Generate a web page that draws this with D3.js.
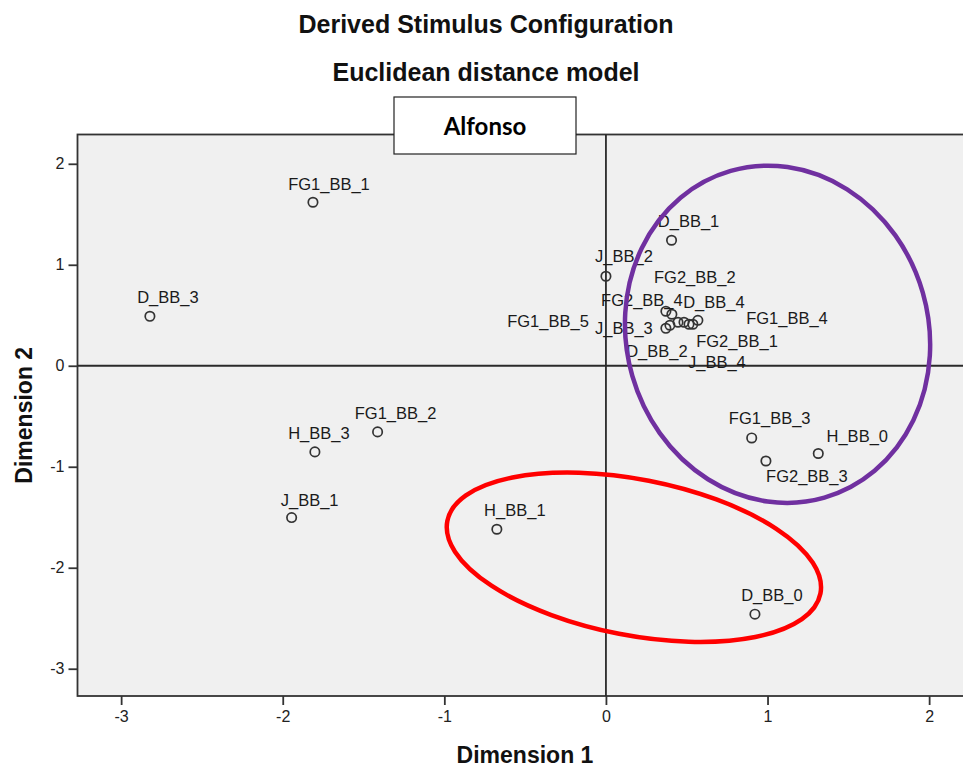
<!DOCTYPE html>
<html>
<head>
<meta charset="utf-8">
<script src="https://cdn.jsdelivr.net/npm/d3@7"></script>
<style>
  html, body { margin: 0; padding: 0; background: #ffffff; }
  svg { display: block; }
  text { font-family: "Liberation Sans", Arial, sans-serif; }
</style>
</head>
<body>
<svg id="chart" width="963" height="767"></svg>
<script>
// Stimulus coordinates in the derived two-dimensional configuration
const stimuli = [
  "FG1_BB_1", "D_BB_3", "FG1_BB_2", "H_BB_3", "J_BB_1", "H_BB_1", "D_BB_0",
  "FG1_BB_3", "FG2_BB_3", "H_BB_0", "D_BB_1", "J_BB_2",
  "FG2_BB_4", "FG2_BB_2", "D_BB_4", "J_BB_3", "D_BB_2", "FG1_BB_5",
  "FG1_BB_4", "FG2_BB_1", "J_BB_4"
];
const dimension1 = [
  -1.813, -2.822, -1.413, -1.801, -1.945, -0.675, 0.922,
  0.902, 0.990, 1.314, 0.406, 0.000,
  0.371, 0.408, 0.569, 0.371, 0.396, 0.446,
  0.483, 0.514, 0.538
];
const dimension2 = [
  1.619, 0.490, -0.655, -0.853, -1.503, -1.619, -2.460,
  -0.715, -0.943, -0.869, 1.243, 0.886,
  0.540, 0.510, 0.450, 0.371, 0.401, 0.431,
  0.431, 0.411, 0.411
];

const xTicks = [-3, -2, -1, 0, 1, 2];
const yTicks = [2, 1, 0, -1, -2, -3];
const axisDomain = [-3.27, 2.29];

const titleText = "Derived Stimulus Configuration";
const subtitleText = "Euclidean distance model";
const subjectName = "Alfonso";
const xTitle = "Dimension 1";
const yTitle = "Dimension 2";

// Label nudges (pixels) so the crowded point labels stay legible
const labelShift = {
  "FG1_BB_1": [16, -12], "D_BB_3": [18, -13], "FG1_BB_2": [18, -13],
  "H_BB_3": [4, -13], "J_BB_1": [18, -12], "H_BB_1": [18, -13],
  "D_BB_0": [17, -13], "FG1_BB_3": [18, -14], "H_BB_0": [39, -12],
  "FG2_BB_3": [41, 21], "D_BB_1": [17, -13], "J_BB_2": [18, -14],
  "FG2_BB_2": [23, -31], "FG2_BB_4": [-24, -5], "D_BB_4": [16, -12],
  "FG1_BB_5": [-130, 5], "J_BB_3": [-42, 6], "FG1_BB_4": [103, 2],
  "FG2_BB_1": [48, 23], "D_BB_2": [-13, 32], "J_BB_4": [24, 44]
};

// Hand-drawn grouping rings, given in data units (centre, radii) plus tilt
const rings = [
  { cx: 1.062, cy: 0.312, rx: 0.935, ry: 1.683, tilt: -16, color: "#7030A0" },
  { cx: 0.173, cy: -1.896, rx: 1.176, ry: 0.772, tilt: 11, color: "#FF0000" }
];

const points = stimuli.map((name, i) => ({ name, d1: dimension1[i], d2: dimension2[i] }));

const svg = d3.select("#chart");
const plot = { left: 77.5, top: 134.5, bottom: 696 };
const unitX = 161.6;

const x = d3.scaleLinear()
  .domain(axisDomain)
  .range([plot.left, plot.left + (axisDomain[1] - axisDomain[0]) * unitX]);
const y = d3.scaleLinear()
  .domain(axisDomain)
  .range([plot.bottom, plot.top]);

// Titles
svg.append("text")
  .attr("x", 486).attr("y", 33)
  .attr("text-anchor", "middle")
  .attr("font-size", 25).attr("font-weight", "bold").attr("fill", "#111")
  .text(titleText);
svg.append("text")
  .attr("x", 486).attr("y", 81)
  .attr("text-anchor", "middle")
  .attr("font-size", 25).attr("font-weight", "bold").attr("fill", "#111")
  .text(subtitleText);

// Plot area
svg.append("rect")
  .attr("x", x(axisDomain[0])).attr("y", y(axisDomain[1]))
  .attr("width", x(axisDomain[1]) - x(axisDomain[0]))
  .attr("height", y(axisDomain[0]) - y(axisDomain[1]))
  .attr("fill", "#f0f0f0").attr("stroke", "#333").attr("stroke-width", 1.8);

// Reference lines through the origin
svg.append("line")
  .attr("x1", x(0)).attr("x2", x(0))
  .attr("y1", y(axisDomain[1])).attr("y2", y(axisDomain[0]))
  .attr("stroke", "#2a2a2a").attr("stroke-width", 1.8);
svg.append("line")
  .attr("x1", x(axisDomain[0])).attr("x2", x(axisDomain[1]))
  .attr("y1", y(0)).attr("y2", y(0))
  .attr("stroke", "#2a2a2a").attr("stroke-width", 1.8);

// Axes
const xAxis = svg.append("g")
  .attr("transform", `translate(0,${plot.bottom})`)
  .call(d3.axisBottom(x).tickValues(xTicks).tickSize(9).tickPadding(6).tickFormat(d => String(d)));
const yAxis = svg.append("g")
  .attr("transform", `translate(${plot.left},0)`)
  .call(d3.axisLeft(y).tickValues(yTicks).tickSize(9).tickPadding(4).tickFormat(d => String(d)));
[xAxis, yAxis].forEach(g => {
  g.select(".domain").remove();
  g.selectAll(".tick line").attr("stroke", "#333").attr("stroke-width", 1.8);
  g.selectAll(".tick text")
    .attr("font-family", "Liberation Sans, Arial, sans-serif")
    .attr("font-size", 16).attr("fill", "#222");
});

svg.append("text")
  .attr("x", 525).attr("y", 763)
  .attr("text-anchor", "middle")
  .attr("font-size", 23).attr("font-weight", "bold").attr("fill", "#111")
  .text(xTitle);
svg.append("text")
  .attr("transform", `translate(32,${(plot.top + plot.bottom) / 2}) rotate(-90)`)
  .attr("text-anchor", "middle")
  .attr("font-size", 23).attr("font-weight", "bold").attr("fill", "#111")
  .text(yTitle);

// Stimulus markers and labels
const marks = svg.append("g");
marks.selectAll("circle")
  .data(points)
  .join("circle")
  .attr("cx", d => x(d.d1))
  .attr("cy", d => y(d.d2))
  .attr("r", 4.7)
  .attr("fill", "none")
  .attr("stroke", "#333")
  .attr("stroke-width", 1.7);
marks.selectAll("text")
  .data(points)
  .join("text")
  .attr("x", d => x(d.d1) + labelShift[d.name][0])
  .attr("y", d => y(d.d2) + labelShift[d.name][1])
  .attr("text-anchor", "middle")
  .attr("font-size", 16.5)
  .attr("fill", "#1a1a1a")
  .text(d => d.name);

// Grouping rings
svg.append("g").selectAll("ellipse")
  .data(rings)
  .join("ellipse")
  .attr("cx", 0).attr("cy", 0)
  .attr("rx", d => x(d.rx) - x(0))
  .attr("ry", d => y(0) - y(d.ry))
  .attr("transform", d => `translate(${x(d.cx)},${y(d.cy)}) rotate(${d.tilt})`)
  .attr("fill", "none")
  .attr("stroke", d => d.color)
  .attr("stroke-width", 4.5);

// Subject name box
const box = svg.append("g");
box.append("rect")
  .attr("x", 394).attr("y", 97).attr("width", 182).attr("height", 57)
  .attr("fill", "#ffffff").attr("stroke", "#222").attr("stroke-width", 1.2);
box.append("text")
  .attr("x", 485).attr("y", 135)
  .attr("text-anchor", "middle")
  .style("font-family", "Lato, 'Open Sans', sans-serif")
  .attr("font-size", 24).attr("font-weight", "bold").attr("fill", "#000")
  .text(subjectName);
</script>
</body>
</html>
